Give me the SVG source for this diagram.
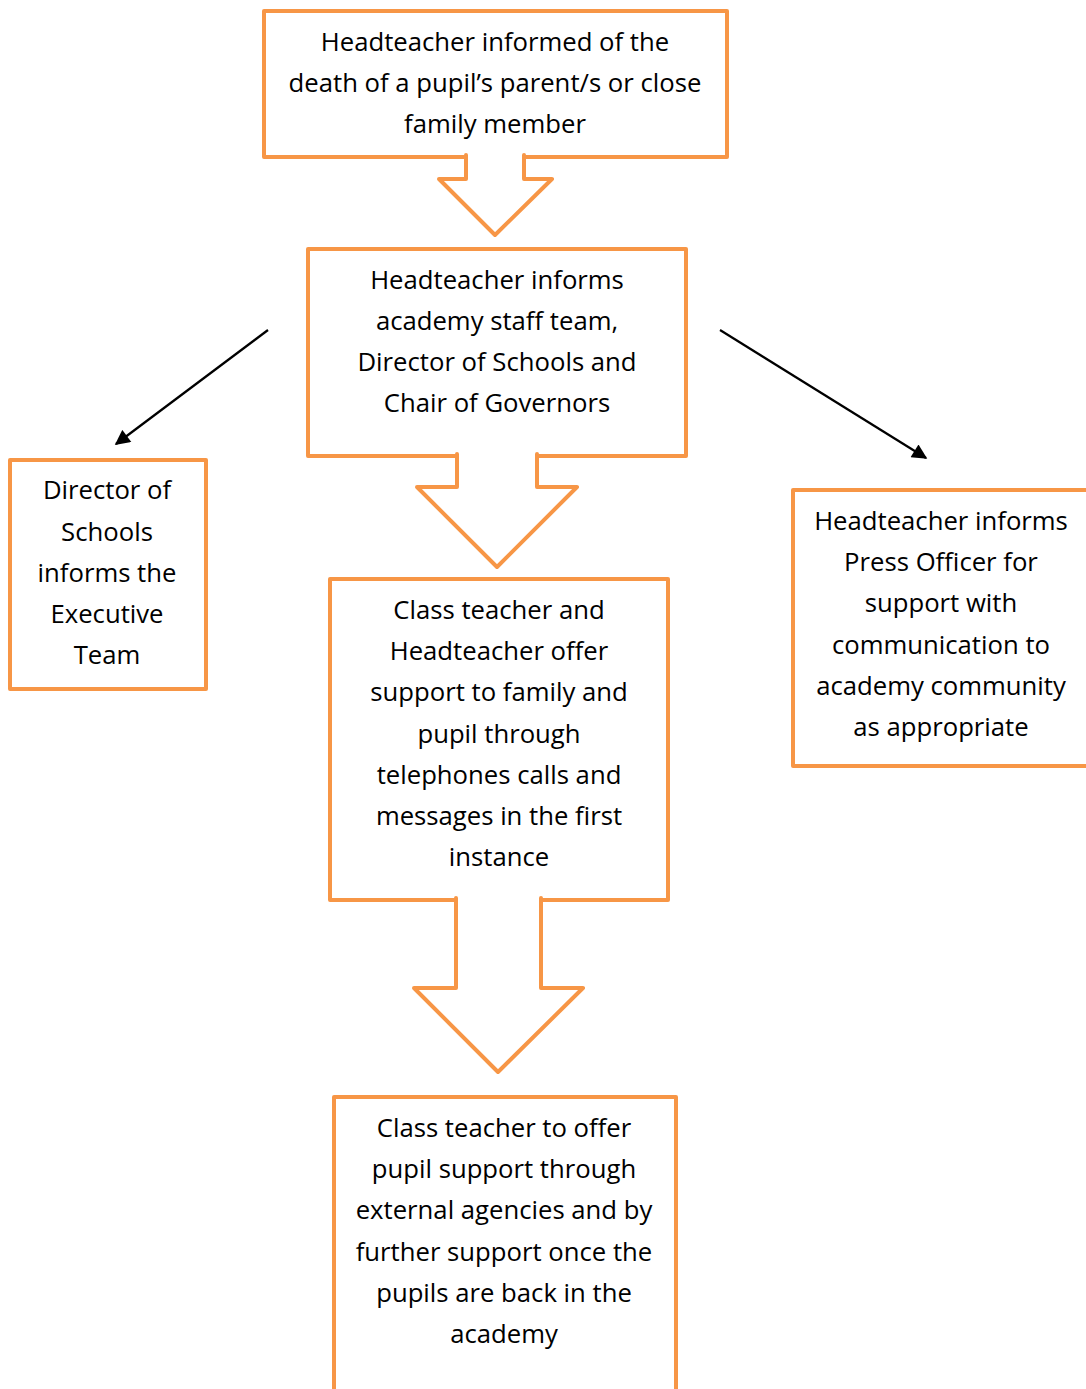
<svg xmlns="http://www.w3.org/2000/svg" width="1086" height="1389" viewBox="0 0 1086 1389">
<style>
.box{fill:none;stroke:#F79646;stroke-width:4;stroke-linejoin:round;stroke-linecap:round}
.arr{fill:#fff;stroke:#F79646;stroke-width:4;stroke-linejoin:round;stroke-linecap:round}
.ln{fill:none;stroke:#000;stroke-width:2.2}
text{font-family:"Open Sans","Noto Sans",sans-serif;font-size:25.7px;fill:#000;text-anchor:middle}
</style>
<defs>
<marker id="ah" viewBox="0 0 10 10" refX="9" refY="5" markerWidth="17" markerHeight="15" markerUnits="userSpaceOnUse" orient="auto">
<path d="M0,0 L10,5 L0,10 Z" fill="#000"/>
</marker>
</defs>
<rect width="1086" height="1389" fill="#fff"/>
<g id="n1">
<path class="box" d="M466,157 L264,157 L264,11 L727,11 L727,157 L524,157"/>
<text x="495" y="51">Headteacher informed of the</text>
<text x="495" y="92">death of a pupil’s parent/s or close</text>
<text x="495" y="133">family member</text>
</g>
<g id="n2">
<path class="box" d="M457,456 L308,456 L308,249 L686,249 L686,456 L537,456"/>
<text x="497" y="289">Headteacher informs</text>
<text x="497" y="330">academy staff team,</text>
<text x="497" y="371">Director of Schools and</text>
<text x="497" y="412">Chair of Governors</text>
</g>
<g id="n3">
<path class="box" d="M456,900 L330,900 L330,579 L668,579 L668,900 L541,900"/>
<text x="499" y="619">Class teacher and</text>
<text x="499" y="660">Headteacher offer</text>
<text x="499" y="701">support to family and</text>
<text x="499" y="743">pupil through</text>
<text x="499" y="784">telephones calls and</text>
<text x="499" y="825">messages in the first</text>
<text x="499" y="866">instance</text>
</g>
<g id="n4">
<path class="box" d="M334,1392 L334,1097 L676,1097 L676,1392"/>
<text x="504" y="1137">Class teacher to offer</text>
<text x="504" y="1178">pupil support through</text>
<text x="504" y="1219">external agencies and by</text>
<text x="504" y="1261">further support once the</text>
<text x="504" y="1302">pupils are back in the</text>
<text x="504" y="1343">academy</text>
</g>
<g id="n5">
<rect class="box" x="10" y="460" width="196" height="229"/>
<text x="107" y="499">Director of</text>
<text x="107" y="541">Schools</text>
<text x="107" y="582">informs the</text>
<text x="107" y="623">Executive</text>
<text x="107" y="664">Team</text>
</g>
<g id="n6">
<path class="box" d="M1090,490 L793,490 L793,766 L1090,766"/>
<text x="941" y="530">Headteacher informs</text>
<text x="941" y="571">Press Officer for</text>
<text x="941" y="612">support with</text>
<text x="941" y="654">communication to</text>
<text x="941" y="695">academy community</text>
<text x="941" y="736">as appropriate</text>
</g>
<g id="connectors">
<path class="arr" d="M466,155 L466,179 L439,179 L495,235 L552,179 L524,179 L524,155"/>
<path class="arr" d="M457,454 L457,487 L417,487 L497,567 L577,487 L537,487 L537,454"/>
<path class="arr" d="M456,898 L456,988 L414,988 L498,1072 L583,988 L541,988 L541,898"/>
<line class="ln" x1="268" y1="330" x2="116" y2="444" marker-end="url(#ah)"/>
<line class="ln" x1="720" y1="330" x2="926" y2="458" marker-end="url(#ah)"/>
</g>
</svg>
